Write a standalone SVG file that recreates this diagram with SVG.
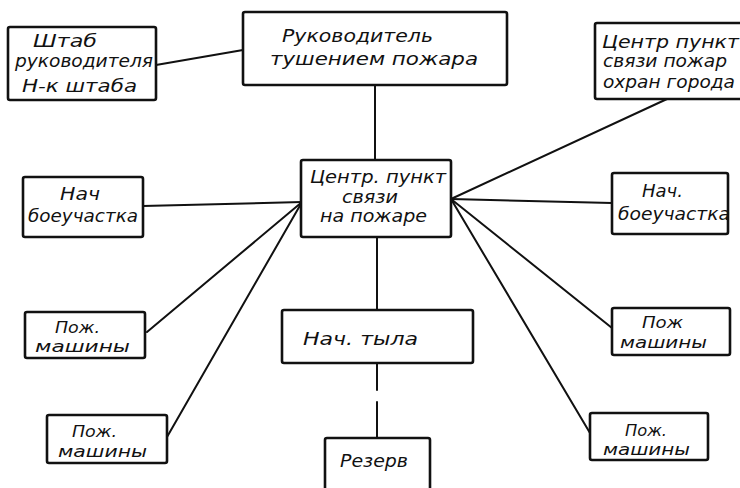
<svg xmlns="http://www.w3.org/2000/svg" width="740" height="488" viewBox="0 0 740 488">
<style>
.box{fill:#fff;stroke:#111;stroke-width:2.6;}
.ln{stroke:#111;stroke-width:2;fill:none;stroke-linecap:round;}
text{font-family:"DejaVu Sans","Liberation Sans",sans-serif;font-style:italic;font-size:18px;fill:#111;}
text.sm{font-size:16px;}
</style>
<rect width="740" height="488" fill="#fff"/>
<g id="connectors">
<line class="ln" x1="156" y1="65" x2="243" y2="50"/>
<line class="ln" x1="375" y1="85" x2="375" y2="160"/>
<line class="ln" x1="451" y1="199" x2="667" y2="99"/>
<line class="ln" x1="302" y1="202" x2="143" y2="206"/>
<line class="ln" x1="302" y1="202" x2="147" y2="332"/>
<line class="ln" x1="302" y1="202" x2="167" y2="437"/>
<line class="ln" x1="451" y1="199" x2="612" y2="203"/>
<line class="ln" x1="451" y1="199" x2="612" y2="328"/>
<line class="ln" x1="451" y1="199" x2="590" y2="433"/>
<line class="ln" x1="377" y1="237" x2="377" y2="310"/>
<line class="ln" x1="377" y1="363" x2="377" y2="390"/>
<line class="ln" x1="377" y1="402" x2="377" y2="438"/>
</g>
<g id="shtab">
<rect class="box" x="8" y="27" width="148" height="73" rx="2"/>
<text x="33" y="47" textLength="64" lengthAdjust="spacingAndGlyphs">Штаб</text>
<text x="15" y="67" textLength="138" lengthAdjust="spacingAndGlyphs">руководителя</text>
<text x="22" y="92" textLength="115" lengthAdjust="spacingAndGlyphs">Н-к штаба</text>
</g>
<g id="rukovoditel">
<rect class="box" x="243" y="12" width="264" height="73" rx="2"/>
<text x="282" y="42" textLength="151" lengthAdjust="spacingAndGlyphs">Руководитель</text>
<text x="270" y="65" textLength="208" lengthAdjust="spacingAndGlyphs">тушением пожара</text>
</g>
<g id="centr-goroda">
<rect class="box" x="595" y="23" width="148" height="76" rx="2"/>
<text x="602" y="48" textLength="137" lengthAdjust="spacingAndGlyphs">Центр пункт</text>
<text x="603" y="67" textLength="124" lengthAdjust="spacingAndGlyphs">связи пожар</text>
<text x="603" y="88" textLength="132" lengthAdjust="spacingAndGlyphs">охран города</text>
</g>
<g id="centr-pozhar">
<rect class="box" x="301" y="160" width="150" height="77" rx="2"/>
<text x="310" y="183" textLength="136" lengthAdjust="spacingAndGlyphs">Центр. пункт</text>
<text x="342" y="203" textLength="56" lengthAdjust="spacingAndGlyphs">связи</text>
<text x="320" y="222" textLength="107" lengthAdjust="spacingAndGlyphs">на пожаре</text>
</g>
<g id="nach-boe-left">
<rect class="box" x="23" y="177" width="120" height="60" rx="2"/>
<text x="60" y="200" textLength="40" lengthAdjust="spacingAndGlyphs">Нач</text>
<text x="28" y="222" textLength="110" lengthAdjust="spacingAndGlyphs">боеучастка</text>
</g>
<g id="nach-boe-right">
<rect class="box" x="612" y="173" width="116" height="61" rx="2"/>
<text x="642" y="197" textLength="41" lengthAdjust="spacingAndGlyphs">Нач.</text>
<text x="618" y="220" textLength="112" lengthAdjust="spacingAndGlyphs">боеучастка</text>
</g>
<g id="pozh-left-1">
<rect class="box" x="25" y="312" width="120" height="46" rx="2"/>
<text class="sm" x="55" y="333" textLength="45" lengthAdjust="spacingAndGlyphs">Пож.</text>
<text class="sm" x="35" y="352" textLength="95" lengthAdjust="spacingAndGlyphs">машины</text>
</g>
<g id="pozh-left-2">
<rect class="box" x="47" y="415" width="120" height="48" rx="2"/>
<text class="sm" x="72" y="437" textLength="45" lengthAdjust="spacingAndGlyphs">Пож.</text>
<text class="sm" x="58" y="457" textLength="89" lengthAdjust="spacingAndGlyphs">машины</text>
</g>
<g id="nach-tyla">
<rect class="box" x="282" y="310" width="191" height="53" rx="2"/>
<text x="303" y="345" textLength="115" lengthAdjust="spacingAndGlyphs">Нач. тыла</text>
</g>
<g id="rezerv">
<rect class="box" x="325" y="438" width="105" height="60" rx="2"/>
<text x="340" y="467" textLength="68" lengthAdjust="spacingAndGlyphs">Резерв</text>
</g>
<g id="pozh-right-1">
<rect class="box" x="612" y="308" width="118" height="47" rx="2"/>
<text class="sm" x="642" y="328" textLength="41" lengthAdjust="spacingAndGlyphs">Пож</text>
<text class="sm" x="620" y="348" textLength="87" lengthAdjust="spacingAndGlyphs">машины</text>
</g>
<g id="pozh-right-2">
<rect class="box" x="590" y="413" width="118" height="47" rx="2"/>
<text class="sm" x="625" y="436" textLength="42" lengthAdjust="spacingAndGlyphs">Пож.</text>
<text class="sm" x="603" y="455" textLength="87" lengthAdjust="spacingAndGlyphs">машины</text>
</g>
</svg>
